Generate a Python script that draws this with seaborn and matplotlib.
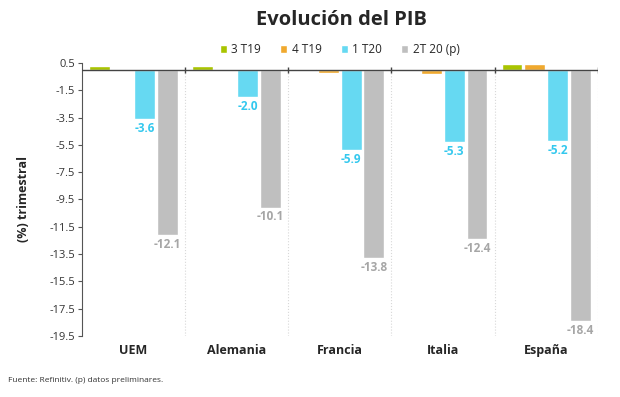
import numpy as np
import pandas as pd
import seaborn as sns
import matplotlib.pyplot as plt

paises = ['UEM', 'Alemania', 'Francia', 'Italia', 'España']
periodos = ['3 T19', '4 T19', '1 T20', '2T 20 (p)']
t3_19 = [0.3, 0.3, 0.1, 0.0, 0.4]
t4_19 = [0.0, 0.0, -0.2, -0.3, 0.4]
t1_20 = [-3.6, -2.0, -5.9, -5.3, -5.2]
t2_20 = [-12.1, -10.1, -13.8, -12.4, -18.4]
colores = ['#a9c400', '#f0a92e', '#66d9f2', '#bfbfbf']
label_colors = {2: '#33c8ee', 3: '#a6a6a6'}

df = pd.DataFrame({
    'pais': paises * 4,
    'periodo': np.repeat(periodos, len(paises)),
    'valor': t3_19 + t4_19 + t1_20 + t2_20,
})

sns.set_style('white')
plt.rcParams['font.family'] = ['Open Sans', 'DejaVu Sans']

fig = plt.figure(figsize=(6.2, 3.97), dpi=100)
ax = fig.add_axes([0.132, 0.154, 0.832, 0.687])

sns.barplot(data=df, x='pais', y='valor', hue='periodo', palette=colores,
            width=0.88, gap=0.08, ax=ax, legend=True, saturation=1)

for i, cont in enumerate(ax.containers):
    if i in label_colors:
        ax.bar_label(cont, fmt='%.1f', padding=2, color=label_colors[i],
                     fontsize=8.5, fontweight='bold')

ax.set_ylim(-19.5, 0.5)
ax.set_xlim(-0.5, 4.5)
ax.set_yticks(np.arange(0.5, -20, -2))
ax.set_yticklabels([f'{v:.1f}' for v in np.arange(0.5, -20, -2)], fontsize=8, color='#333333')
ax.tick_params(axis='y', length=3, color='#555555', left=True, pad=2)
ax.set_xticks(range(len(paises)))
ax.set_xticklabels(paises, fontsize=9, fontweight='bold')
ax.tick_params(axis='x', length=0, pad=6)
ax.set_xlabel('')
ax.set_ylabel('(%) trimestral', fontsize=9, fontweight='bold', labelpad=14)

for s in ['top', 'right', 'bottom']:
    ax.spines[s].set_visible(False)
ax.spines['left'].set_color('#555555')
ax.spines['left'].set_linewidth(0.8)

ax.axhline(0, color='#444444', lw=1, zorder=3)
for b in np.arange(0.5, 4.6, 1):
    ax.vlines(b, -19.5, 0, colors='#d8d8d8', linestyles=':', lw=0.8, zorder=0)
    ax.vlines(b, -0.2, 0.2, colors='#444444', lw=1, zorder=3)

ax.legend(loc='lower center', bbox_to_anchor=(0.5, 1.0), ncol=4, frameon=False,
          fontsize=8.5, handlelength=0.6, handleheight=0.6, handletextpad=0.4,
          columnspacing=1.6, borderaxespad=0.2)

fig.text(0.55, 0.95, 'Evolución del PIB', ha='center', va='center',
         fontsize=14.5, fontweight='bold')
fig.text(0.013, 0.038, 'Fuente: Refinitiv. (p) datos preliminares.', fontsize=6,
         color='#333333')

fig.savefig('out.png', dpi=100)
